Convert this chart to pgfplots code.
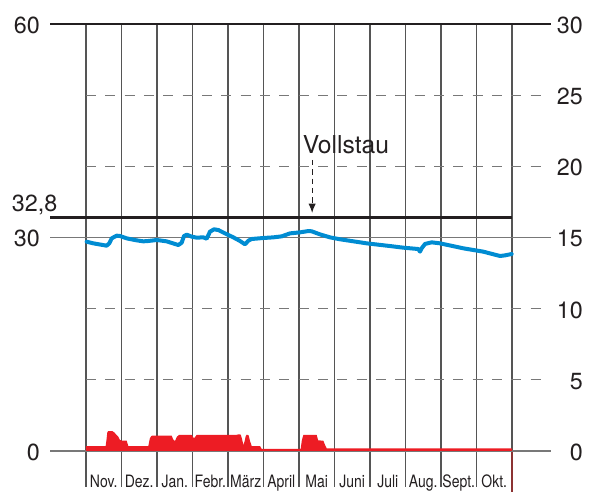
\documentclass[border=0pt]{standalone}
\usepackage{fontspec}
\setmainfont{TeX Gyre Heros}
\newfontfamily\condfont[FakeStretch=0.82]{TeX Gyre Heros}
\usepackage{pgfplots}
\pgfplotsset{compat=1.18}
\usetikzlibrary{arrows.meta}
\definecolor{myblue}{RGB}{0,140,210}
\definecolor{myred}{RGB}{237,28,36}
\definecolor{gridc}{RGB}{85,85,85}
\definecolor{hgrid}{RGB}{120,120,120}
\definecolor{txt}{RGB}{35,31,32}
\definecolor{brownred}{RGB}{140,50,50}
\begin{document}
\begin{tikzpicture}
\useasboundingbox (-64.5pt,-30.75pt) rectangle (382.5pt,338.25pt);
\begin{axis}[at={(0pt,0pt)}, anchor=south west, scale only axis,
  width=319.5pt, height=320.25pt,
  xmin=0, xmax=12, ymin=0, ymax=60,
  hide axis, clip=false]
% vertical grid lines
\pgfplotsinvokeforeach{0,1,...,11}{
  \draw[gridc, line width=0.9pt] (axis cs:#1,60) -- (axis cs:#1,-5.0);
}
\draw[gridc, line width=0.9pt] (axis cs:12,60) -- (axis cs:12,0);
\draw[brownred, line width=0.9pt] (axis cs:12,0) -- (axis cs:12,-5.9);
% dashed horizontal lines
\pgfplotsinvokeforeach{10,20,40,50}{
  \draw[hgrid, line width=0.9pt, dash pattern=on 7.5pt off 7pt] (axis cs:0,#1) -- (axis cs:13.0,#1);
}
% solid horizontal lines
\pgfplotsinvokeforeach{0,30}{
  \draw[hgrid, line width=0.9pt] (axis cs:-1.014,#1) -- (axis cs:13.1,#1);
}
\draw[txt, line width=0.9pt] (axis cs:-1.014,60) -- (axis cs:13.1,60);
% red area
\addplot[fill=myred, draw=none] coordinates {
(0,0.70) (0.554,0.70) (0.575,1.5) (0.60,2.6) (0.625,2.81) (0.74,2.81) (0.80,2.6) (0.86,2.25) (0.91,2.01) (0.95,1.6) (1.005,1.45) (1.146,1.45) (1.192,0.70)
(1.756,0.70) (1.80,1.8) (1.84,2.1) (1.87,2.15) (2.413,2.15) (2.46,1.6) (2.507,1.41) (2.56,2.0) (2.62,2.25) (2.977,2.25) (3.042,1.78) (3.117,2.25)
(4.225,2.25) (4.30,2.35) (4.36,2.3) (4.40,1.6) (4.432,0.84) (4.47,1.4) (4.50,2.1) (4.53,2.3) (4.58,2.2) (4.62,1.4) (4.667,0.70) (4.901,0.70) (4.948,0.30)
(6.047,0.30) (6.08,1.5) (6.122,2.25) (6.498,2.25) (6.54,1.5) (6.685,1.45) (6.73,0.9) (6.78,0.37) (12,0.37)
} \closedcycle;
% blue water level line
\addplot[myblue, line width=3pt, line join=round, line cap=round] coordinates {
(0.019,29.41) (0.206,29.18) (0.582,28.85) (0.657,29.18) (0.723,29.88) (0.864,30.26) (0.958,30.21) (1.146,29.88)
(1.427,29.60) (1.615,29.46) (1.756,29.51) (1.991,29.65) (2.272,29.46) (2.601,28.94) (2.695,29.27) (2.761,30.21)
(2.836,30.40) (2.977,30.12) (3.117,29.98) (3.305,30.02) (3.399,29.83) (3.493,30.82) (3.606,31.15) (3.728,31.05)
(3.915,30.58) (4.150,30.02) (4.338,29.51) (4.479,29.04) (4.573,29.55) (4.667,29.79) (4.995,29.93) (5.277,30.02)
(5.512,30.16) (5.746,30.58) (6.028,30.72) (6.263,30.91) (6.357,30.87) (6.592,30.44) (6.873,30.02) (7.155,29.75)
(7.906,29.18) (8.563,28.80) (8.939,28.57) (9.361,28.38) (9.408,28.01) (9.455,28.48) (9.549,29.09) (9.737,29.32)
(9.972,29.18) (10.629,28.48) (11.192,28.01) (11.662,27.40) (11.803,27.49) (11.991,27.68)
};
% Vollstau line
\draw[txt, line width=2.6pt] (axis cs:-1.014,32.8) -- (axis cs:12,32.8);
\draw[txt, line width=0.9pt, dash pattern=on 4pt off 3pt, -{Latex[length=7pt,width=5.5pt]}] (axis cs:6.37,40.9) -- (axis cs:6.37,33.44);
\node[anchor=base west, inner sep=0pt, text=txt, font=\fontsize{18.5}{21}\selectfont] at (axis cs:6.10,41.83) {Vollstau};
% left labels
\pgfplotsinvokeforeach{0,30,60}{
  \node[anchor=east, inner sep=0pt, text=txt, yshift=-1pt, font=\fontsize{17.5}{20}\selectfont] at (axis cs:-1.296,#1) {#1};
}
\node[anchor=base west, inner sep=0pt, text=txt, font=\fontsize{17.5}{20}\selectfont] at (axis cs:-2.093,33.62) {32,8};
% right labels
\pgfplotsinvokeforeach{0,5,10,15,20,25,30}{
  \node[anchor=east, inner sep=0pt, text=txt, yshift=-1pt, font=\fontsize{17.5}{20}\selectfont] at (axis cs:14.0,2*#1) {#1};
}
% month labels
\pgfplotsforeachungrouped \i/\m in {0/Nov.,1/Dez.,2/Jan.,3/Febr.,4/März,5/April,6/Mai,7/Juni,8/Juli,9/Aug.,10/Sept.,11/Okt.}{
  \edef\tmp{\noexpand\node[anchor=base, inner sep=0pt, text=txt, font=\noexpand\condfont\noexpand\fontsize{12.8}{15}\noexpand\selectfont] at (axis cs:\i+0.5,-5.06) {\m};}
  \tmp
}
\end{axis}
\end{tikzpicture}
\end{document}
